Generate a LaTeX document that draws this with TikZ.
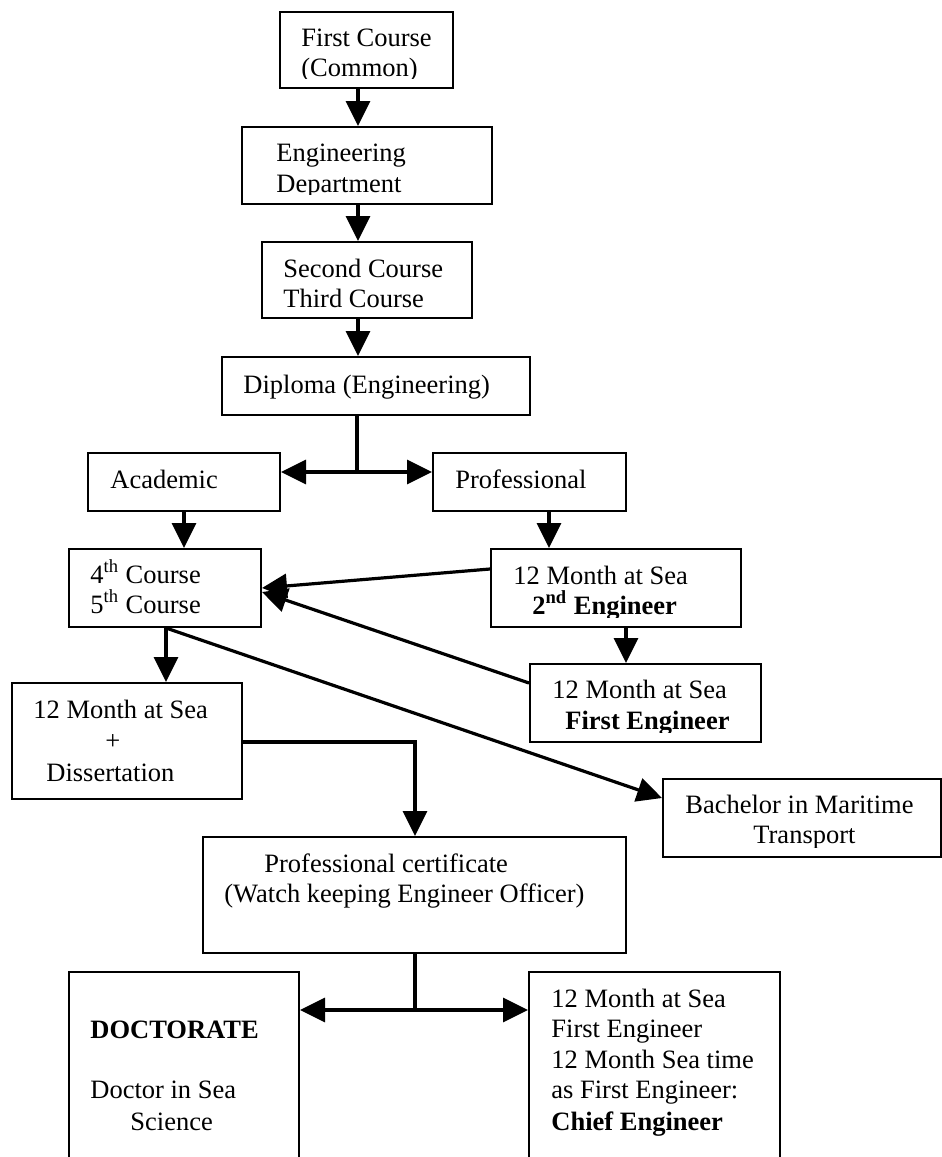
\documentclass[tikz,border=0pt]{standalone}
\usepackage{fontspec}
\setmainfont{Liberation Serif}
\usetikzlibrary{arrows.meta,fit}
\begin{document}
\begin{tikzpicture}[x=0.5pt,y=-0.5pt,
  box/.style={draw,line width=1pt,inner sep=0pt,rectangle},
  txt/.style={anchor=base west,inner sep=0pt,font=\fontsize{13.25pt}{15pt}\selectfont},
  conn/.style={line width=1.6pt},
  arr/.style={conn,-{Triangle[length=12.5pt,width=12pt]}},
  darr/.style={conn,{Triangle[length=12.5pt,width=12pt]}-{Triangle[length=12.5pt,width=12pt]}}]

\fill[white] (0,0) rectangle (942,1157);
\clip (0,0) rectangle (942,1157);

% ---------- boxes ----------
\node[box,fit={(280,12)(453,88)}]     (first)    {};
\node[box,fit={(242,127)(492,204)}]   (eng)      {};
\node[box,fit={(262,242)(472,318)}]   (second)   {};
\node[box,fit={(222,357)(530,415)}]   (dipl)     {};
\node[box,fit={(88,453)(280,511)}]    (acad)     {};
\node[box,fit={(433,453)(626,511)}]   (prof)     {};
\node[box,fit={(69,549)(261,627)}]    (fourth)   {};
\node[box,fit={(491,549)(741,627)}]   (seceng)   {};
\node[box,fit={(530,664)(761,742)}]   (firsteng) {};
\node[box,fit={(12,683)(242,799)}]    (diss)     {};
\node[box,fit={(663,779)(941,857)}]   (bach)     {};
\node[box,fit={(203,837)(626,953)}]   (cert)     {};
\node[box,fit={(69,972)(299,1180)}]   (doc)      {};
\node[box,fit={(529,972)(780,1180)}]  (chief)    {};

% ---------- texts (bottom lines of some frames are cut by the text frame) ----------
\begin{scope}
  \clip (first.north west) rectangle ([yshift=5.5pt]first.south east);
  \node[txt] (tfirst1) at (301,46) {First Course};
  \node[txt] (tfirst2) at (301,76) {(Common)};
\end{scope}
\begin{scope}
  \clip (eng.north west) rectangle ([yshift=5.5pt]eng.south east);
  \node[txt] (teng1) at (276,161) {Engineering};
  \node[txt] (teng2) at (276,192) {Department};
\end{scope}
\node[txt] (tsec1) at (283,277) {Second Course};
\node[txt] (tsec2) at (283,307) {Third Course};
\node[txt] (tdipl) at (243,393) {Diploma (Engineering)};
\node[txt] (tacad) at (110,488) {Academic};
\node[txt] (tprof) at (455,488) {Professional};
\node[txt] (tfour1) at (90,583) {4\textsuperscript{th} Course};
\node[txt] (tfour2) at (90,613) {5\textsuperscript{th} Course};
\begin{scope}
  \clip (seceng.north west) rectangle ([yshift=5.5pt]seceng.south east);
  \node[txt] (tsecg1) at (513,584) {12 Month at Sea};
  \node[txt] (tsecg2) at (532,614) {\textbf{2\textsuperscript{nd} Engineer}};
\end{scope}
\begin{scope}
  \clip (firsteng.north west) rectangle ([yshift=5.5pt]firsteng.south east);
  \node[txt] (tfe1) at (552,698) {12 Month at Sea};
  \node[txt] (tfe2) at (565,729) {\textbf{First Engineer}};
\end{scope}
\node[txt] (tdiss1) at (33,718) {12 Month at Sea};
\node[txt] (tdiss2) at (105,749) {+};
\node[txt] (tdiss3) at (46,781) {Dissertation};
\begin{scope}
  \clip (bach.north west) rectangle ([yshift=5.5pt]bach.south east);
  \node[txt] (tbach1) at (685,813) {Bachelor in Maritime};
  \node[txt] (tbach2) at (753,843) {Transport};
\end{scope}
\node[txt] (tcert1) at (264,872) {Professional certificate};
\node[txt] (tcert2) at (224,902) {(Watch keeping Engineer Officer)};
\node[txt] (tdoc1) at (90,1038) {\textbf{DOCTORATE}};
\node[txt] (tdoc2) at (90,1098) {Doctor in Sea};
\node[txt] (tdoc3) at (130,1130) {Science};
\node[txt] (tch1) at (551,1007) {12 Month at Sea};
\node[txt] (tch2) at (551,1037) {First Engineer};
\node[txt] (tch3) at (551,1068) {12 Month Sea time};
\node[txt] (tch4) at (551,1098) {as First Engineer:};
\node[txt] (tch5) at (551,1130) {\textbf{Chief Engineer}};

% ---------- connectors ----------
\coordinate (xmain) at (358,0);
\draw[arr] (first.south -| xmain) -- (eng.north -| xmain);
\draw[arr] (eng.south -| xmain) -- (second.north -| xmain);
\draw[arr] (second.south -| xmain) -- (dipl.north -| xmain);

\coordinate (split) at (357,472);
\draw[conn] (dipl.south -| split) -- (split);
\draw[darr] (acad.east |- split) -- (prof.west |- split);

\coordinate (xacad) at (184,0);
\draw[arr] (acad.south -| xacad) -- (fourth.north -| xacad);
\coordinate (xprof) at (549,0);
\draw[arr] (prof.south -| xprof) -- (seceng.north -| xprof);
\coordinate (xsec) at (626,0);
\draw[arr] (seceng.south -| xsec) -- (firsteng.north -| xsec);

\coordinate (ysec) at (0,569);
\draw[arr] (seceng.west |- ysec) -- (fourth.east);
\coordinate (yfirst) at (0,683);
\coordinate (yin) at (0,592);
\draw[arr] (firsteng.west |- yfirst) -- (fourth.east |- yin);

\coordinate (xfour) at (166,0);
\draw[arr] (fourth.south -| xfour) -- (diss.north -| xfour);
\coordinate (ybach) at (0,798);
\draw[arr] (fourth.south -| xfour) -- (bach.west |- ybach);

\coordinate (ydiss) at (0,742);
\coordinate (xcert) at (415,0);
\draw[arr] (diss.east |- ydiss) -| (cert.north -| xcert);

\coordinate (split2) at (415,1010);
\draw[conn] (cert.south -| split2) -- (split2);
\draw[darr] (doc.east |- split2) -- (chief.west |- split2);
\end{tikzpicture}
\end{document}
